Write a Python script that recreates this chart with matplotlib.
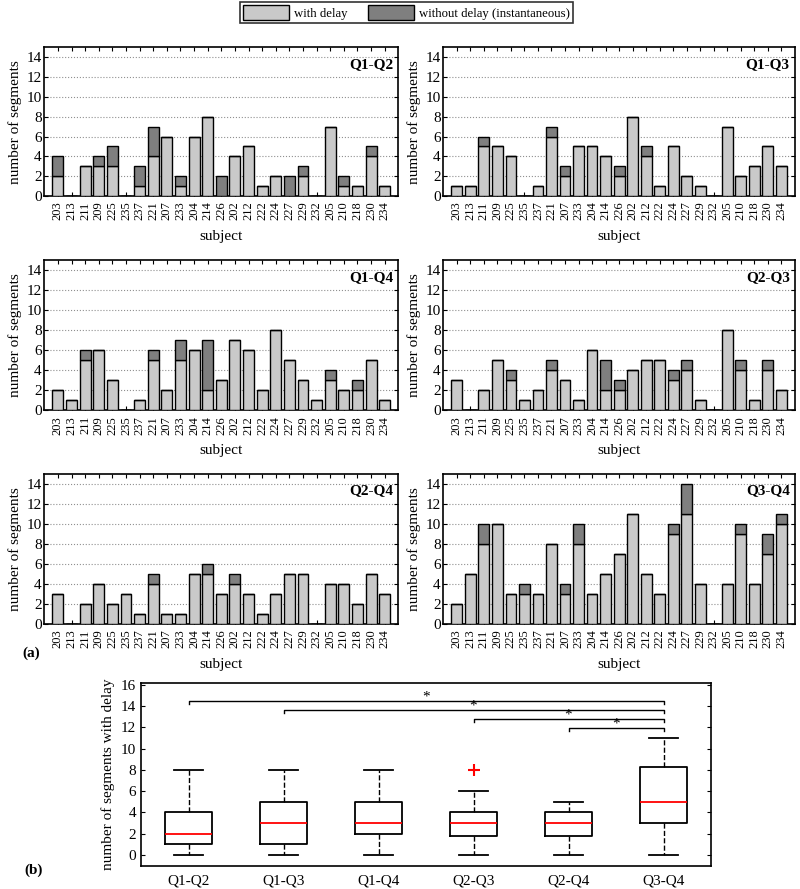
import numpy as np
import matplotlib
matplotlib.use('Agg')
import matplotlib.pyplot as plt
from matplotlib.patches import Patch

plt.rcParams['font.family'] = ['Liberation Serif', 'DejaVu Serif']
plt.rcParams['font.size'] = 11

subjects = ['203', '213', '211', '209', '225', '235', '237', '221', '207', '233', '204', '214', '226',
            '202', '212', '222', '224', '227', '229', '232', '205', '210', '218', '230', '234']

q12_delay = [2, 0, 3, 3, 3, 0, 1, 4, 6, 1, 6, 8, 0, 4, 5, 1, 2, 0, 2, 0, 7, 1, 1, 4, 1]
q12_inst = [2, 0, 0, 1, 2, 0, 2, 3, 0, 1, 0, 0, 2, 0, 0, 0, 0, 2, 1, 0, 0, 1, 0, 1, 0]
q13_delay = [1, 1, 5, 5, 4, 0, 1, 6, 2, 5, 5, 4, 2, 8, 4, 1, 5, 2, 1, 0, 7, 2, 3, 5, 3]
q13_inst = [0, 0, 1, 0, 0, 0, 0, 1, 1, 0, 0, 0, 1, 0, 1, 0, 0, 0, 0, 0, 0, 0, 0, 0, 0]
q14_delay = [2, 1, 5, 6, 3, 0, 1, 5, 2, 5, 6, 2, 3, 7, 6, 2, 8, 5, 3, 1, 3, 2, 2, 5, 1]
q14_inst = [0, 0, 1, 0, 0, 0, 0, 1, 0, 2, 0, 5, 0, 0, 0, 0, 0, 0, 0, 0, 1, 0, 1, 0, 0]
q23_delay = [3, 0, 2, 5, 3, 1, 2, 4, 3, 1, 6, 2, 2, 4, 5, 5, 3, 4, 1, 0, 8, 4, 1, 4, 2]
q23_inst = [0, 0, 0, 0, 1, 0, 0, 1, 0, 0, 0, 3, 1, 0, 0, 0, 1, 1, 0, 0, 0, 1, 0, 1, 0]
q24_delay = [3, 0, 2, 4, 2, 3, 1, 4, 1, 1, 5, 5, 3, 4, 3, 1, 3, 5, 5, 0, 4, 4, 2, 5, 3]
q24_inst = [0, 0, 0, 0, 0, 0, 0, 1, 0, 0, 0, 1, 0, 1, 0, 0, 0, 0, 0, 0, 0, 0, 0, 0, 0]
q34_delay = [2, 5, 8, 10, 3, 3, 3, 8, 3, 8, 3, 5, 7, 11, 5, 3, 9, 11, 4, 0, 4, 9, 4, 7, 10]
q34_inst = [0, 0, 2, 0, 0, 1, 0, 0, 1, 2, 0, 0, 0, 0, 0, 0, 1, 3, 0, 0, 0, 1, 0, 2, 1]

pair_labels = ['Q1-Q2', 'Q1-Q3', 'Q1-Q4', 'Q2-Q3', 'Q2-Q4', 'Q3-Q4']
delays = [q12_delay, q13_delay, q14_delay, q23_delay, q24_delay, q34_delay]
insts = [q12_inst, q13_inst, q14_inst, q23_inst, q24_inst, q34_inst]

# significance pairs (1-based box index) and bar heights
sig_pairs = [(1, 6), (2, 6), (4, 6), (5, 6)]
sig_levels = [14.5, 13.65, 12.8, 11.95]

LIGHT = '#c9c9c9'
DARK = '#7f7f7f'

fig = plt.figure(figsize=(8.0, 8.89), dpi=100)

col_x = [(0.0554, 0.4425), (0.5541, 0.4396)]
row_y = [(0.7795, 0.1673), (0.5385, 0.1687), (0.2981, 0.1687)]

x = np.arange(1, len(subjects) + 1)
for i, (lab, d, s) in enumerate(zip(pair_labels, delays, insts)):
    r, c = divmod(i, 2)
    ax = fig.add_axes([col_x[c][0], row_y[r][0], col_x[c][1], row_y[r][1]])
    d = np.array(d)
    s = np.array(s)
    ax.bar(x, d, width=0.8, color=LIGHT, edgecolor='black', linewidth=1.0, zorder=3)
    ax.bar(x, s, width=0.8, bottom=d, color=DARK, edgecolor='black', linewidth=1.0, zorder=3)
    ax.set_xlim(0, len(subjects) + 1)
    ax.set_ylim(0, 15)
    ax.set_yticks(np.arange(0, 15, 2))
    ax.set_xticks(x)
    ax.set_xticklabels(subjects, rotation=90, fontsize=9)
    ax.tick_params(axis='both', direction='in', top=True, right=True, length=3, width=0.8, pad=2)
    ax.tick_params(axis='x', pad=4)
    ax.yaxis.grid(True, linestyle=':', color='#909090', linewidth=0.8, zorder=0)
    ax.set_axisbelow(True)
    for sp in ax.spines.values():
        sp.set_linewidth(1.2)
    ax.set_ylabel('number of segments', fontsize=11, labelpad=3)
    ax.set_xlabel('subject', fontsize=11, labelpad=7)
    ax.text(0.985, 0.93, lab, transform=ax.transAxes, ha='right', va='top',
            fontsize=11, fontweight='bold', zorder=5)

fig.text(0.028, 1 - 653 / 889, '(a)', fontsize=11, fontweight='bold', ha='left', va='center')

# legend
handles = [Patch(facecolor=LIGHT, edgecolor='black', linewidth=1.0),
           Patch(facecolor=DARK, edgecolor='black', linewidth=1.0)]
leg = fig.legend(handles, ['with delay', 'without delay (instantaneous)'], ncol=2,
                 loc='upper center', bbox_to_anchor=(0.508, 0.998), frameon=True, fancybox=False,
                 edgecolor='black', fontsize=9.2, handlelength=3.6, handleheight=1.4,
                 handletextpad=0.4, columnspacing=1.6, borderpad=0.25, borderaxespad=0)
leg.get_frame().set_linewidth(1.2)

# box plot of delays
def box_stats(vals, label):
    v = np.asarray(vals, dtype=float)
    q1, med, q3 = np.percentile(v, [25, 50, 75], method='hazen')
    iqr = q3 - q1
    lo_f, hi_f = q1 - 1.5 * iqr, q3 + 1.5 * iqr
    inside = v[(v >= lo_f) & (v <= hi_f)]
    return dict(med=med, q1=q1, q3=q3, whislo=inside.min(), whishi=inside.max(),
                fliers=v[(v < lo_f) | (v > hi_f)], label=label)

stats = [box_stats(d, lab) for d, lab in zip(delays, pair_labels)]
axb = fig.add_axes([0.1763, 0.0262, 0.7125, 0.2059])
axb.bxp(stats, positions=np.arange(1, 7), widths=0.5, capwidths=0.3,
        boxprops=dict(color='black', linewidth=1.3),
        medianprops=dict(color='red', linewidth=1.3),
        whiskerprops=dict(color='black', linewidth=1.0, linestyle='--'),
        capprops=dict(color='black', linewidth=1.3),
        flierprops=dict(marker='+', markeredgecolor='red', markersize=9, markeredgewidth=1.5))
for (a, b), lvl in zip(sig_pairs, sig_levels):
    axb.plot([a, a, b, b], [lvl - 0.3, lvl, lvl, lvl - 0.3], color='black', linewidth=1.0)
    axb.text((a + b) / 2, lvl - 0.25, '*', ha='center', va='bottom', fontsize=11)
axb.set_xlim(0.5, 6.5)
axb.set_ylim(-1, 16.2)
axb.set_yticks(np.arange(0, 17, 2))
axb.tick_params(axis='both', direction='in', top=False, right=True, length=3, width=0.8)
axb.tick_params(axis='x', length=0, pad=6)
for sp in axb.spines.values():
    sp.set_linewidth(1.2)
axb.set_ylabel('number of segments with delay', fontsize=11, labelpad=4)
fig.text(0.031, 1 - 870 / 889, '(b)', fontsize=11, fontweight='bold', ha='left', va='center')

fig.savefig('out.png', dpi=100)
